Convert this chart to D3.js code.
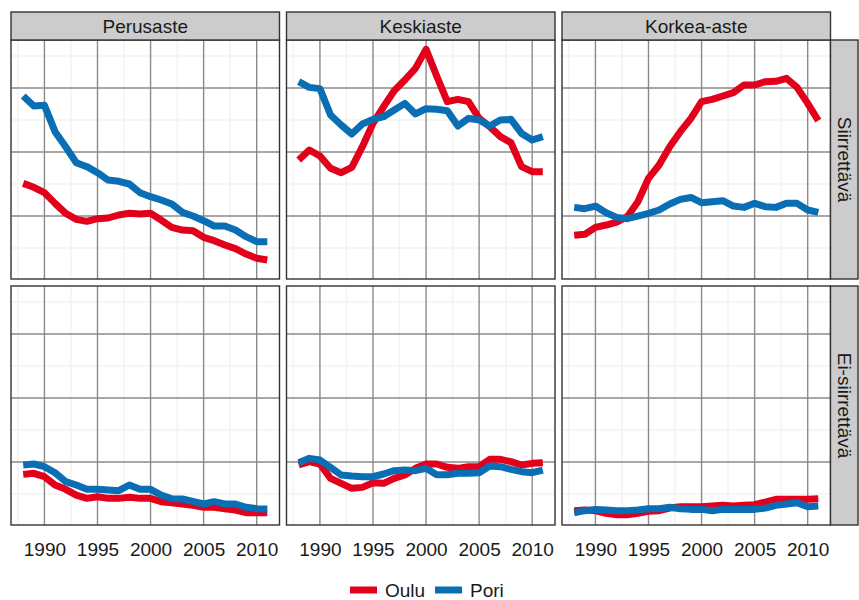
<!DOCTYPE html>
<html>
<head>
<meta charset="utf-8">
<script src="https://cdn.jsdelivr.net/npm/d3@7"></script>
<style>
  html, body { margin: 0; padding: 0; background: #fff; }
  svg { display: block; font-family: "Liberation Sans", Arial, Helvetica, sans-serif; }
</style>
</head>
<body>
<svg id="chart" width="859" height="600"></svg>
<script>
// ---- Data ----
const years = d3.range(1988, 2012);
const columns = ["Perusaste", "Keskiaste", "Korkea-aste"];
const rows = ["Siirrettävä", "Ei-siirrettävä"];
const cities = ["Oulu", "Pori"];
const cityColors = ["#e2001a", "#0a6eb4"];
const xTicks = [1990, 1995, 2000, 2005, 2010];
const yLimits = [0.016, 3.75];
const yMajor = [1, 2, 3];
const yMinor = [0.5, 1.5, 2.5, 3.5];

// Siirrettävä row
const ouluPerusSiirr = [1.51,1.448,1.365,1.198,1.042,0.948,0.917,0.958,0.969,1.016,1.042,1.031,1.042,0.9375,0.823,0.781,0.771,0.667,0.615,0.547,0.49,0.406,0.339,0.3125];
const poriPerusSiirr = [2.875,2.719,2.729,2.318,2.083,1.833,1.771,1.677,1.5625,1.542,1.5,1.365,1.302,1.25,1.1875,1.057,1.0,0.927,0.844,0.844,0.781,0.677,0.599,0.599];
const ouluKeskiSiirr = [1.875,2.031,1.9375,1.745,1.677,1.76,2.083,2.448,2.708,2.958,3.125,3.307,3.604,3.1875,2.786,2.823,2.786,2.526,2.396,2.24,2.146,1.771,1.693,1.693];
const poriKeskiSiirr = [3.099,3.01,2.99,2.578,2.422,2.281,2.4375,2.51,2.552,2.656,2.76,2.594,2.677,2.667,2.646,2.406,2.526,2.5,2.406,2.5,2.51,2.29,2.1875,2.24];
const ouluKorkeaSiirr = [0.698,0.714,0.823,0.859,0.906,0.99,1.224,1.589,1.797,2.083,2.318,2.526,2.786,2.823,2.875,2.927,3.047,3.047,3.099,3.104,3.151,3.01,2.76,2.49];
const poriKorkeaSiirr = [1.135,1.115,1.156,1.052,0.979,0.958,1.0,1.042,1.094,1.1875,1.26,1.29,1.208,1.224,1.24,1.156,1.135,1.198,1.146,1.135,1.198,1.198,1.094,1.057];

// Ei-siirrettävä row
const ouluPerusEi = [0.807,0.823,0.771,0.641,0.573,0.484,0.432,0.458,0.432,0.432,0.448,0.432,0.432,0.38,0.365,0.344,0.323,0.292,0.292,0.271,0.25,0.208,0.208,0.208];
const poriPerusEi = [0.953,0.969,0.927,0.833,0.693,0.641,0.573,0.573,0.5625,0.552,0.641,0.573,0.573,0.484,0.427,0.422,0.385,0.344,0.38,0.344,0.344,0.292,0.271,0.266];
const ouluKeskiEi = [0.953,1.005,0.969,0.745,0.667,0.589,0.604,0.677,0.667,0.745,0.797,0.901,0.969,0.969,0.917,0.901,0.927,0.927,1.042,1.042,1.005,0.953,0.979,0.99];
const poriKeskiEi = [0.99,1.057,1.031,0.917,0.797,0.781,0.771,0.771,0.8125,0.865,0.875,0.865,0.901,0.802,0.802,0.823,0.823,0.833,0.9375,0.927,0.885,0.849,0.833,0.875];
const ouluKorkeaEi = [0.24,0.25,0.24,0.198,0.177,0.177,0.198,0.229,0.24,0.281,0.302,0.302,0.302,0.3125,0.323,0.3125,0.323,0.333,0.375,0.417,0.417,0.417,0.417,0.427];
const poriKorkeaEi = [0.208,0.24,0.26,0.25,0.24,0.24,0.25,0.271,0.271,0.292,0.271,0.26,0.26,0.24,0.26,0.26,0.26,0.26,0.281,0.323,0.344,0.365,0.302,0.3125];

const seriesGrid = [
  [[ouluPerusSiirr, poriPerusSiirr], [ouluKeskiSiirr, poriKeskiSiirr], [ouluKorkeaSiirr, poriKorkeaSiirr]],
  [[ouluPerusEi, poriPerusEi], [ouluKeskiEi, poriKeskiEi], [ouluKorkeaEi, poriKorkeaEi]]
];

// ---- Layout ----
const svg = d3.select("#chart");
const left = 11, panelW = 268.5, gapX = 7;
const stripTop = 12, stripH = 28;
const panelTop = stripTop + stripH, panelH = 239, gapY = 7;
const rightStripW = 27.5;
const textColor = "#1a1a1a";
const fontSize = 19;

const x = d3.scaleLinear().domain([1986.85, 2012.15]).range([0, panelW]);
const y = d3.scaleLinear().domain(yLimits).range([panelH, 0]);
const xMinor = d3.range(1987.5, 2012.5, 5);

const line = d3.line().x((d, i) => x(years[i])).y(d => y(d));

rows.forEach((rowName, r) => {
  columns.forEach((colName, c) => {
    const px = left + c * (panelW + gapX);
    const py = panelTop + r * (panelH + gapY);
    const g = svg.append("g").attr("transform", `translate(${px},${py})`);

    g.append("rect").attr("width", panelW).attr("height", panelH).attr("fill", "#fff");

    // minor grid
    g.selectAll(".ymin").data(yMinor).join("line")
      .attr("x1", 0).attr("x2", panelW).attr("y1", d => y(d)).attr("y2", d => y(d))
      .attr("stroke", "#f2f2f2").attr("stroke-width", 1.4);
    g.selectAll(".xmin").data(xMinor).join("line")
      .attr("y1", 0).attr("y2", panelH).attr("x1", d => x(d)).attr("x2", d => x(d))
      .attr("stroke", "#f2f2f2").attr("stroke-width", 1.4);
    // major grid
    g.selectAll(".ymaj").data(yMajor).join("line")
      .attr("x1", 0).attr("x2", panelW).attr("y1", d => y(d)).attr("y2", d => y(d))
      .attr("stroke", "#8a8a8a").attr("stroke-width", 1.4);
    g.selectAll(".xmaj").data(xTicks).join("line")
      .attr("y1", 0).attr("y2", panelH).attr("x1", d => x(d)).attr("x2", d => x(d))
      .attr("stroke", "#8a8a8a").attr("stroke-width", 1.4);

    // lines
    seriesGrid[r][c].forEach((vals, k) => {
      g.append("path").datum(vals).attr("d", line)
        .attr("fill", "none").attr("stroke", cityColors[k])
        .attr("stroke-width", 7).attr("stroke-linejoin", "round").attr("stroke-linecap", "butt");
    });

    // border
    g.append("rect").attr("width", panelW).attr("height", panelH)
      .attr("fill", "none").attr("stroke", "#333").attr("stroke-width", 1.4);

    // top strip
    if (r === 0) {
      svg.append("rect").attr("x", px).attr("y", stripTop).attr("width", panelW).attr("height", stripH)
        .attr("fill", "#cccccc").attr("stroke", "#333").attr("stroke-width", 1.4);
      svg.append("text").attr("x", px + panelW / 2).attr("y", stripTop + stripH / 2)
        .attr("text-anchor", "middle").attr("dominant-baseline", "central")
        .attr("font-size", fontSize).attr("fill", textColor).text(colName);
    }
    // right strip
    if (c === columns.length - 1) {
      const sx = px + panelW;
      svg.append("rect").attr("x", sx).attr("y", py).attr("width", rightStripW).attr("height", panelH)
        .attr("fill", "#cccccc").attr("stroke", "#333").attr("stroke-width", 1.4);
      svg.append("text")
        .attr("transform", `translate(${sx + rightStripW / 2},${py + panelH / 2}) rotate(90)`)
        .attr("text-anchor", "middle").attr("dominant-baseline", "central")
        .attr("font-size", fontSize).attr("fill", textColor).text(rowName);
    }
    // x axis labels
    if (r === rows.length - 1) {
      const axis = d3.axisBottom(x).tickValues(xTicks).tickFormat(d3.format("d")).tickSize(0).tickPadding(18);
      const ag = svg.append("g").attr("transform", `translate(${px},${py + panelH})`).call(axis);
      ag.select(".domain").remove();
      ag.selectAll("text").attr("font-size", fontSize).attr("fill", textColor)
        .attr("font-family", "Liberation Sans, Arial, sans-serif");
    }
  });
});

// ---- Legend ----
const legend = svg.append("g").attr("transform", "translate(350,590)");
let lx = 0;
cities.forEach((name, k) => {
  legend.append("line").attr("x1", lx).attr("x2", lx + 27).attr("y1", 0).attr("y2", 0)
    .attr("stroke", cityColors[k]).attr("stroke-width", 7);
  const t = legend.append("text").attr("x", lx + 35).attr("y", 0)
    .attr("dominant-baseline", "central").attr("font-size", fontSize).attr("fill", textColor).text(name);
  lx += 85;
});
</script>
</body>
</html>
